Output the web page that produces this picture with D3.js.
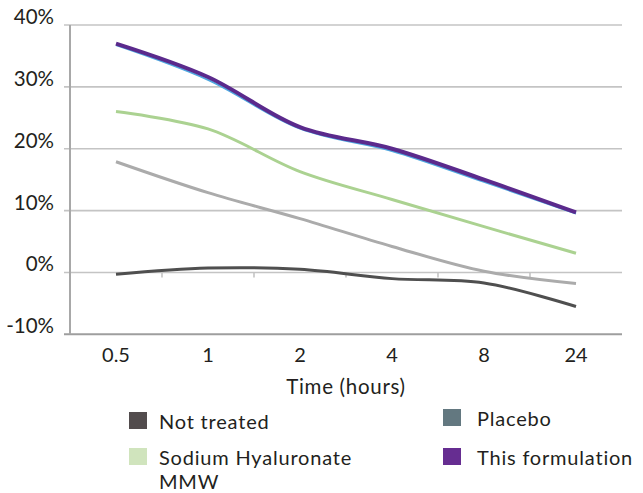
<!DOCTYPE html>
<html><head><meta charset="utf-8">
<script src="https://cdn.jsdelivr.net/npm/d3@7"></script>
<style>
html,body{margin:0;padding:0;background:#fff;}
svg{display:block;font-family:"Lato",sans-serif;}
</style></head>
<body><svg id="c" width="643" height="493"></svg>
<script>
const categories = ["0.5","1","2","4","8","24"];
const yTicks = [-10,0,10,20,30,40];
const notTreated = [-0.3, 0.7, 0.5, -1.0, -1.7, -5.5];
const placebo = [17.9, 12.9, 8.7, 4.2, 0.2, -1.8];
const sodiumHyaluronate = [26.0, 23.2, 16.3, 11.8, 7.4, 3.1];
const thisFormulation = [37.0, 31.6, 23.5, 20.0, 15.0, 9.7];
const hiddenSeries = [36.9, 31.3, 23.4, 19.8, 14.8, 9.7];
const seriesNames = ["Not treated","Placebo","Sodium Hyaluronate MMW","This formulation"];

const svg = d3.select("#c");
const x = d3.scaleBand().domain(categories).range([70, 622]);
const y = d3.scaleLinear().domain([-10, 40]).range([334.3, 25]);
const textCol = "#231f20";

// gridlines
svg.append("g").selectAll("line").data(yTicks).join("line")
  .attr("x1", 64).attr("x2", 622)
  .attr("y1", d => y(d)).attr("y2", d => y(d))
  .attr("stroke", d => d === -10 ? "#9e9e9e" : "#c4c4c4")
  .attr("stroke-width", d => d === -10 ? 2 : 1.6);
// vertical axis
svg.append("line").attr("x1", 70).attr("x2", 70).attr("y1", y(40)).attr("y2", y(-10))
  .attr("stroke", "#a8a8a8").attr("stroke-width", 2);
// category ticks on zero line
svg.append("g").selectAll("line").data(categories.slice(1)).join("line")
  .attr("x1", d => x(d)).attr("x2", d => x(d))
  .attr("y1", y(0)).attr("y2", y(0) + 5)
  .attr("stroke", "#c4c4c4").attr("stroke-width", 1.6);

// y labels
svg.append("g").selectAll("text").data(yTicks).join("text")
  .attr("x", 54).attr("y", d => y(d) - 1)
  .attr("text-anchor", "end").attr("font-size", 20.5).attr("fill", textCol)
  .text(d => d + "%");
// x labels
svg.append("g").selectAll("text").data(categories).join("text")
  .attr("x", d => x(d) + x.bandwidth() / 2).attr("y", 362)
  .attr("text-anchor", "middle").attr("font-size", 20).attr("fill", textCol)
  .text(d => d);
svg.append("text").attr("x", 346).attr("y", 394).attr("text-anchor", "middle")
  .attr("font-size", 20.5).attr("letter-spacing", 0.7).attr("fill", textCol).text("Time (hours)");

// lines
const line = d3.line()
  .x((d, i) => x(categories[i]) + x.bandwidth() / 2)
  .y(d => y(d))
  .curve(d3.curveCatmullRom.alpha(0.5));
const lines = [
  {v: notTreated, c: "#4f4f4f", w: 3},
  {v: placebo, c: "#ababab", w: 3},
  {v: sodiumHyaluronate, c: "#abd291", w: 3},
  {v: hiddenSeries, c: "#4fa8e0", w: 2, dy: 1},
  {v: thisFormulation, c: "#5b2a8c", w: 4}
];
svg.append("g").selectAll("path").data(lines).join("path")
  .attr("d", d => line(d.v))
  .attr("transform", d => d.dy ? `translate(0,${d.dy})` : null)
  .attr("fill", "none").attr("stroke", d => d.c).attr("stroke-width", d => d.w)
  .attr("stroke-linejoin", "round").attr("stroke-linecap", "butt");

// legend
const legend = [
  {name: seriesNames[0], c: "#524c4d", sx: 129, sy: 412, tx: 159, lines: ["Not treated"]},
  {name: seriesNames[1], c: "#637880", sx: 443, sy: 409, tx: 477, lines: ["Placebo"]},
  {name: seriesNames[2], c: "#d0e4bd", sx: 129, sy: 448, tx: 159, lines: ["Sodium Hyaluronate", "MMW"]},
  {name: seriesNames[3], c: "#662d91", sx: 443, sy: 448, tx: 477, lines: ["This formulation"]}
];
const lg = svg.append("g").selectAll("g").data(legend).join("g");
lg.append("rect").attr("x", d => d.sx).attr("y", d => d.sy).attr("width", 18).attr("height", 17)
  .attr("fill", d => d.c);
lg.each(function(d) {
  const t = d3.select(this).append("text").attr("x", d.tx).attr("y", d.sy + 16.5)
    .attr("font-size", 20).attr("letter-spacing", 0.8).attr("fill", textCol);
  d.lines.forEach((s, i) => {
    t.append("tspan").attr("x", d.tx).attr("dy", i === 0 ? 0 : 24).text(s);
  });
});
</script>
</body></html>
